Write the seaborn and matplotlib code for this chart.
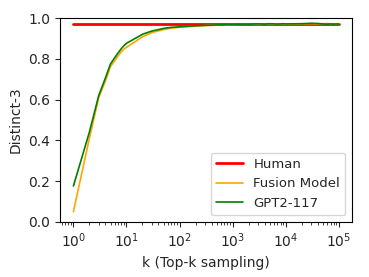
import numpy as np
import pandas as pd
import matplotlib
matplotlib.use("Agg")
import matplotlib.pyplot as plt
import seaborn as sns

k_values = [1, 2, 3, 4, 5, 6, 7, 8, 9, 10, 20, 30, 40, 50, 60, 70, 80, 90, 100,
            200, 300, 400, 500, 600, 700, 800, 900, 1000,
            2000, 3000, 4000, 5000, 6000, 7000, 8000, 9000, 10000,
            20000, 30000, 40000, 50000, 60000, 70000, 80000, 90000, 100000]
gpt2 = [0.176, 0.44, 0.62, 0.705, 0.775, 0.805, 0.83, 0.85, 0.865, 0.876, 0.92, 0.936,
        0.943, 0.949, 0.952, 0.954, 0.955, 0.956, 0.957, 0.962, 0.964, 0.965, 0.966,
        0.966, 0.967, 0.968, 0.969, 0.970, 0.970, 0.971, 0.970, 0.972, 0.971, 0.970,
        0.971, 0.972, 0.971, 0.972, 0.974, 0.973, 0.971, 0.970, 0.971, 0.970, 0.971, 0.970]
fusion = [0.05, 0.41, 0.61, 0.69, 0.762, 0.79, 0.815, 0.835, 0.848, 0.856, 0.908, 0.928,
          0.937, 0.943, 0.947, 0.95, 0.952, 0.953, 0.955, 0.960, 0.963, 0.964, 0.965,
          0.966, 0.967, 0.967, 0.968, 0.969, 0.970, 0.969, 0.970, 0.971, 0.970, 0.971,
          0.970, 0.971, 0.970, 0.971, 0.972, 0.971, 0.972, 0.973, 0.971, 0.972, 0.970, 0.972]
human_value = 0.969
human = [human_value] * len(k_values)

sns.set_style("ticks")
plt.rcParams['font.family'] = ['DejaVu Sans']

fig = plt.figure(figsize=(3.69, 2.77), dpi=100)
ax = fig.add_axes([0.163, 0.199, 0.791, 0.736])

df_h = pd.DataFrame({"k": k_values, "v": human})
df_f = pd.DataFrame({"k": k_values, "v": fusion})
df_g = pd.DataFrame({"k": k_values, "v": gpt2})

sns.lineplot(data=df_h, x="k", y="v", ax=ax, color="red", linewidth=2.0, label="Human")
sns.lineplot(data=df_f, x="k", y="v", ax=ax, color="orange", linewidth=1.2, label="Fusion Model")
sns.lineplot(data=df_g, x="k", y="v", ax=ax, color="green", linewidth=1.2, label="GPT2-117")

ax.set_xscale("log")
ax.set_ylim(0, 1.0)
ax.set_yticks([0.0, 0.2, 0.4, 0.6, 0.8, 1.0])
ax.set_xlabel("k (Top-k sampling)", fontsize=10)
ax.set_ylabel("Distinct-3", fontsize=10)
ax.tick_params(axis="both", which="major", labelsize=10, length=3.5, width=0.8, direction="out")
ax.tick_params(axis="x", which="minor", length=2, width=0.6)
for s in ax.spines.values():
    s.set_linewidth(0.8)
    s.set_color("black")
ax.legend(loc="lower right", fontsize=9.5, frameon=True, handlelength=2.0)

fig.savefig("out.png", dpi=100)
